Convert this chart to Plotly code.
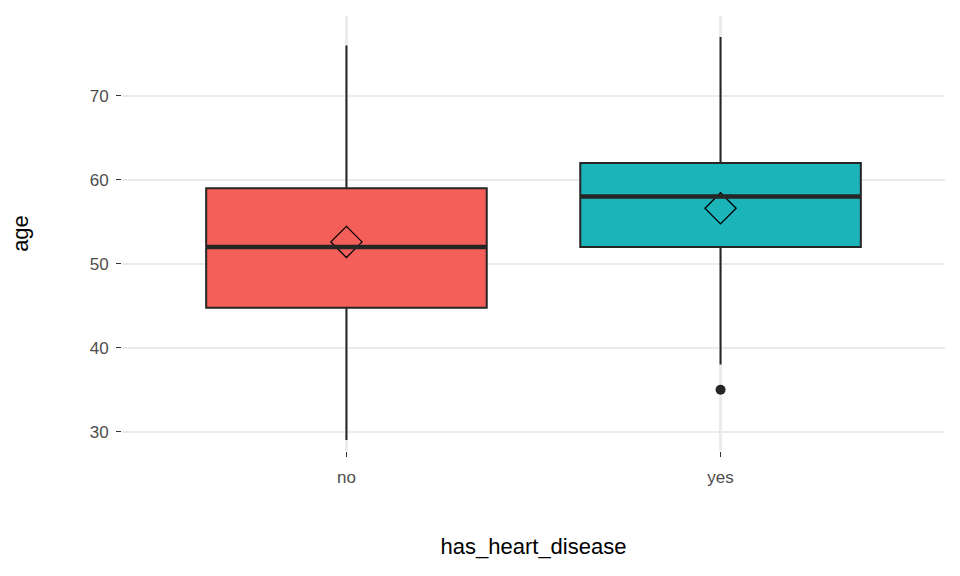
import plotly.graph_objects as go

groups = ["no", "yes"]
colors = ["#F45F5A", "#1BB4B9"]
lower = [29, 38]
q1 = [44.75, 52]
median = [52, 58]
q3 = [59, 62]
upper = [76, 77]
means = [52.6, 56.6]
outlier_x = ["yes"]
outlier_y = [35]

fig = go.Figure()
for i, g in enumerate(groups):
    fig.add_trace(go.Box(
        x=[g], q1=[q1[i]], median=[median[i]], q3=[q3[i]],
        lowerfence=[lower[i]], upperfence=[upper[i]],
        fillcolor=colors[i], line=dict(color="#262626", width=2),
        whiskerwidth=0, width=0.75, boxpoints=False, showlegend=False,
    ))
    # thicker median line like ggplot
    fig.add_trace(go.Scatter(
        x=[i - 0.375, i + 0.375], y=[median[i], median[i]], xaxis="x2",
        mode="lines", line=dict(color="#262626", width=4.5), showlegend=False,
    ))

fig.add_trace(go.Scatter(
    x=groups, y=means, mode="markers",
    marker=dict(symbol="diamond-open", size=24, color="black", line=dict(width=1.3)),
    showlegend=False,
))
fig.add_trace(go.Scatter(
    x=outlier_x, y=outlier_y, mode="markers",
    marker=dict(size=10, color="#262626"), showlegend=False,
))

fig.update_layout(
    width=960, height=576,
    margin=dict(l=114, r=23, t=8, b=133),
    plot_bgcolor="white", paper_bgcolor="white",
    font=dict(family="Liberation Sans, Arial", color="#4d4d4d", size=17),
    xaxis=dict(
        type="category", range=[-0.6, 1.6],
        title=dict(text="has_heart_disease", font=dict(size=22, color="black"), standoff=52),
        showgrid=True, gridcolor="#ebebeb", gridwidth=2.5, ticks="outside", ticklen=5,
        tickcolor="#333333", zeroline=False, ticklabelstandoff=6,
    ),
    xaxis2=dict(range=[-0.6, 1.6], overlaying="x", visible=False),
    yaxis=dict(
        range=[27.7, 79.5], tickvals=[30, 40, 50, 60, 70],
        title=dict(text="age", font=dict(size=22, color="black"), standoff=56),
        showgrid=True, gridcolor="#ebebeb", gridwidth=2, ticks="outside", ticklen=5,
        tickcolor="#333333", zeroline=False, ticklabelstandoff=4,
    ),
)

fig.write_html("out.html")
